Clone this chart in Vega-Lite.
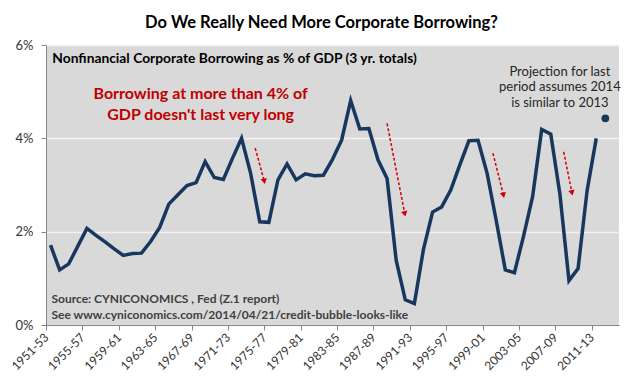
{
  "$schema": "https://vega.github.io/schema/vega-lite/v6.json",
  "width": 573,
  "height": 280,
  "autosize": {"type": "none"},
  "padding": {"left": 46, "top": 45, "right": 21, "bottom": 59},
  "background": "white",
  "config": {"view": {"fill": "#D9D9D9", "stroke": null}, "font": "Lato"},
  "title": {"text": "Do We Really Need More Corporate Borrowing?", "fontSize": 16.5, "fontWeight": "bold", "color": "#000000", "anchor": "middle", "dx": -11, "offset": 8, "font": "Lato"},
  "datasets": {
    "series": [
      {"x": 1951, "y": 1.71}, {"x": 1952, "y": 1.18}, {"x": 1953, "y": 1.31}, {"x": 1954, "y": 1.69},
      {"x": 1955, "y": 2.07}, {"x": 1956, "y": 1.92}, {"x": 1957, "y": 1.78}, {"x": 1958, "y": 1.63},
      {"x": 1959, "y": 1.49}, {"x": 1960, "y": 1.53}, {"x": 1961, "y": 1.54}, {"x": 1962, "y": 1.79},
      {"x": 1963, "y": 2.09}, {"x": 1964, "y": 2.59}, {"x": 1965, "y": 2.79}, {"x": 1966, "y": 2.99},
      {"x": 1967, "y": 3.05}, {"x": 1968, "y": 3.50}, {"x": 1969, "y": 3.16}, {"x": 1970, "y": 3.12},
      {"x": 1971, "y": 3.57}, {"x": 1972, "y": 4.00}, {"x": 1973, "y": 3.25}, {"x": 1974, "y": 2.21},
      {"x": 1975, "y": 2.20}, {"x": 1976, "y": 3.11}, {"x": 1977, "y": 3.45}, {"x": 1978, "y": 3.11},
      {"x": 1979, "y": 3.24}, {"x": 1980, "y": 3.20}, {"x": 1981, "y": 3.21}, {"x": 1982, "y": 3.55},
      {"x": 1983, "y": 3.96}, {"x": 1984, "y": 4.81}, {"x": 1985, "y": 4.20}, {"x": 1986, "y": 4.21},
      {"x": 1987, "y": 3.54}, {"x": 1988, "y": 3.14}, {"x": 1989, "y": 1.39}, {"x": 1990, "y": 0.54},
      {"x": 1991, "y": 0.46}, {"x": 1992, "y": 1.62}, {"x": 1993, "y": 2.42}, {"x": 1994, "y": 2.53},
      {"x": 1995, "y": 2.89}, {"x": 1996, "y": 3.43}, {"x": 1997, "y": 3.95}, {"x": 1998, "y": 3.96},
      {"x": 1999, "y": 3.25}, {"x": 2000, "y": 2.24}, {"x": 2001, "y": 1.18}, {"x": 2002, "y": 1.12},
      {"x": 2003, "y": 1.90}, {"x": 2004, "y": 2.75}, {"x": 2005, "y": 4.19}, {"x": 2006, "y": 4.09},
      {"x": 2007, "y": 2.81}, {"x": 2008, "y": 0.95}, {"x": 2009, "y": 1.21}, {"x": 2010, "y": 2.89},
      {"x": 2011, "y": 4.00}
    ],
    "proj": [{"x": 2012, "y": 4.43}],
    "arrows": [
      {"x": 1973.5, "y": 3.79, "x2": 1974.5, "y2": 3.08},
      {"x": 1988.0, "y": 4.32, "x2": 1989.95, "y2": 2.38},
      {"x": 1999.64, "y": 3.68, "x2": 2000.8, "y2": 2.78},
      {"x": 2007.42, "y": 3.71, "x2": 2008.33, "y2": 2.83}
    ],
    "heading": [{"x": 1951.2, "y": 5.70, "text": "Nonfinancial Corporate Borrowing as % of GDP (3 yr. totals)"}],
    "red": [
      {"x": 1967.5, "y": 4.96, "text": "Borrowing at more than 4% of"},
      {"x": 1967.5, "y": 4.50, "text": "GDP doesn't last very long"}
    ],
    "note": [
      {"x": 2007.0, "y": 5.43, "text": "Projection for last"},
      {"x": 2007.0, "y": 5.09, "text": "period assumes 2014"},
      {"x": 2007.0, "y": 4.76, "text": "is similar to 2013"}
    ],
    "source": [
      {"x": 1951.1, "y": 0.557, "text": "Source:  CYNICONOMICS , Fed (Z.1 report)"},
      {"x": 1951.1, "y": 0.214, "text": "See www.cyniconomics.com/2014/04/21/credit-bubble-looks-like"}
    ]
  },
  "layer": [
    {
      "data": {"name": "series"},
      "mark": {"type": "line", "color": "#17375E", "strokeWidth": 3.5, "strokeJoin": "miter"},
      "encoding": {
        "x": {
          "field": "x", "type": "quantitative", "title": null,
          "scale": {"domain": [1950.5, 2013.5], "nice": false, "zero": false},
          "axis": {
            "values": [1950.5, 1954.5, 1958.5, 1962.5, 1966.5, 1970.5, 1974.5, 1978.5, 1982.5, 1986.5, 1990.5, 1994.5, 1998.5, 2002.5, 2006.5, 2010.5],
            "tickCount": 40,
            "labelExpr": "toString(datum.value + 0.5) + '-' + slice(toString(datum.value + 2.5), 2)",
            "labelAngle": -45, "labelAlign": "right", "labelBaseline": "middle",
            "labelDx": 4.5, "labelPadding": 5, "labelFontSize": 12, "labelColor": "#333333",
            "labelOverlap": false, "labelBound": false, "labelFlush": false,
            "grid": false, "domainColor": "#868686", "tickColor": "#868686", "tickSize": 5
          }
        },
        "y": {
          "field": "y", "type": "quantitative", "title": null,
          "scale": {"domain": [0, 6], "nice": false},
          "axis": {
            "values": [0, 2, 4, 6], "labelExpr": "datum.value + '%'",
            "grid": true, "gridColor": "#F2F2F2", "gridWidth": 1.5,
            "domainColor": "#868686", "tickColor": "#868686", "tickSize": 5,
            "labelFontSize": 13, "labelColor": "#333333", "labelPadding": 8
          }
        }
      }
    },
    {
      "data": {"name": "proj"},
      "mark": {"type": "point", "filled": true, "color": "#17375E", "size": 60, "opacity": 1},
      "encoding": {
        "x": {"field": "x", "type": "quantitative", "title": null},
        "y": {"field": "y", "type": "quantitative", "title": null}
      }
    },
    {
      "data": {"name": "arrows"},
      "mark": {"type": "rule", "color": "#D00000", "strokeWidth": 1.5, "strokeDash": [3, 2]},
      "encoding": {
        "x": {"field": "x", "type": "quantitative", "title": null},
        "y": {"field": "y", "type": "quantitative", "title": null},
        "x2": {"field": "x2"},
        "y2": {"field": "y2"}
      }
    },
    {
      "data": {"name": "arrows"},
      "mark": {"type": "point", "shape": "triangle-down", "filled": true, "color": "#D00000", "size": 40, "angle": 347, "opacity": 1},
      "encoding": {
        "x": {"field": "x2", "type": "quantitative", "title": null},
        "y": {"field": "y2", "type": "quantitative", "title": null}
      }
    },
    {
      "data": {"name": "heading"},
      "mark": {"type": "text", "align": "left", "baseline": "middle", "fontSize": 13.8, "fontWeight": "bold", "color": "#000000"},
      "encoding": {
        "x": {"field": "x", "type": "quantitative", "title": null},
        "y": {"field": "y", "type": "quantitative", "title": null},
        "text": {"field": "text"}
      }
    },
    {
      "data": {"name": "red"},
      "mark": {"type": "text", "align": "center", "baseline": "middle", "fontSize": 16, "fontWeight": "bold", "color": "#C00000"},
      "encoding": {
        "x": {"field": "x", "type": "quantitative", "title": null},
        "y": {"field": "y", "type": "quantitative", "title": null},
        "text": {"field": "text"}
      }
    },
    {
      "data": {"name": "note"},
      "mark": {"type": "text", "align": "center", "baseline": "middle", "fontSize": 13, "color": "#262626"},
      "encoding": {
        "x": {"field": "x", "type": "quantitative", "title": null},
        "y": {"field": "y", "type": "quantitative", "title": null},
        "text": {"field": "text"}
      }
    },
    {
      "data": {"name": "source"},
      "mark": {"type": "text", "align": "left", "baseline": "middle", "fontSize": 12, "fontWeight": "bold", "color": "#404040"},
      "encoding": {
        "x": {"field": "x", "type": "quantitative", "title": null},
        "y": {"field": "y", "type": "quantitative", "title": null},
        "text": {"field": "text"}
      }
    }
  ]
}
